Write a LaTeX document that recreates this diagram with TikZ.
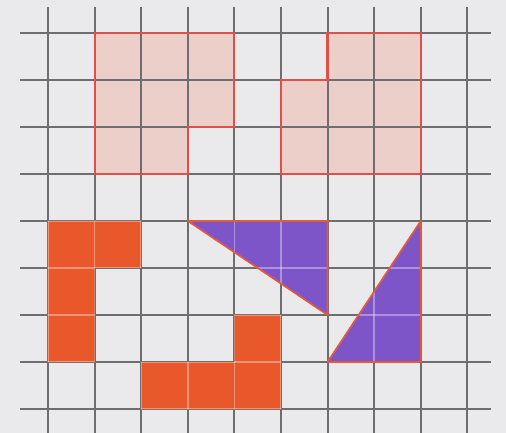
\documentclass[tikz,border=0pt]{standalone}
\usetikzlibrary{calc}
\definecolor{paper}{HTML}{EAEAEC}
\definecolor{gridc}{HTML}{6E6E6E}
\definecolor{pinkfill}{HTML}{EDCFCA}
\definecolor{pinkline}{HTML}{E0504A}
\definecolor{orangec}{HTML}{E8582A}
\definecolor{purplec}{HTML}{7E55C8}
\definecolor{triline}{HTML}{E65A3C}
\tikzset{
  gridline/.style={draw=gridc, line width=1.2pt},
  pinkshape/.style={fill=pinkfill, draw=pinkline, line width=1.3pt, line join=miter},
  orangecell/.style={fill=orangec},
  purpletri/.style={fill=purplec},
  trioutline/.style={draw=triline, line width=1pt, line join=round},
  faintgrid/.style={draw=white, opacity=0.35, line width=1pt}
}
\begin{document}
\begin{tikzpicture}[x=1cm,y=-1.009cm]
\useasboundingbox (-1.03,-0.70) rectangle (9.83,8.51);
\fill[paper] (-1.03,-0.70) rectangle (9.83,8.51);
% pink fills
\fill[pinkfill] (1,0) -- (4,0) -- (4,2) -- (3,2) -- (3,3) -- (1,3) -- cycle;
\fill[pinkfill] (6,0) -- (8,0) -- (8,3) -- (5,3) -- (5,1) -- (6,1) -- cycle;
% grid
\foreach \i in {0,...,9} { \draw[gridline] (\i,-0.55) -- (\i,8.6); }
\foreach \j in {0,...,8} { \draw[gridline] (-0.6,\j) -- (9.5,\j); }
% pink outlines
\draw[pinkline, line width=1.3pt] (1,0) -- (4,0) -- (4,2) -- (3,2) -- (3,3) -- (1,3) -- cycle;
\draw[pinkline, line width=1.3pt] (6,0) -- (8,0) -- (8,3) -- (5,3) -- (5,1) -- (6,1) -- cycle;
% orange cells
\fill[orangec] (0,4) -- (2,4) -- (2,5) -- (1,5) -- (1,7) -- (0,7) -- cycle;
\fill[orangec] (2,7) -- (4,7) -- (4,6) -- (5,6) -- (5,8) -- (2,8) -- cycle;
% purple triangles
\fill[purplec] (3,4) -- (6,4) -- (6,6) -- cycle;
\fill[purplec] (8,4) -- (8,7) -- (6,7) -- cycle;
% faint grid inside coloured shapes
\begin{scope}
\clip (0,4) -- (2,4) -- (2,5) -- (1,5) -- (1,7) -- (0,7) -- cycle
      (2,7) -- (4,7) -- (4,6) -- (5,6) -- (5,8) -- (2,8) -- cycle
      (3,4) -- (6,4) -- (6,6) -- cycle
      (8,4) -- (8,7) -- (6,7) -- cycle;
\foreach \i in {0,...,9} { \draw[faintgrid] (\i,3) -- (\i,9); }
\foreach \j in {4,...,8} { \draw[faintgrid] (-1,\j) -- (10,\j); }
\end{scope}
% triangle outlines
\draw[trioutline] (3,4) -- (6,4) -- (6,6) -- cycle;
\draw[trioutline] (8,4) -- (8,7) -- (6,7) -- cycle;
\end{tikzpicture}
\end{document}
